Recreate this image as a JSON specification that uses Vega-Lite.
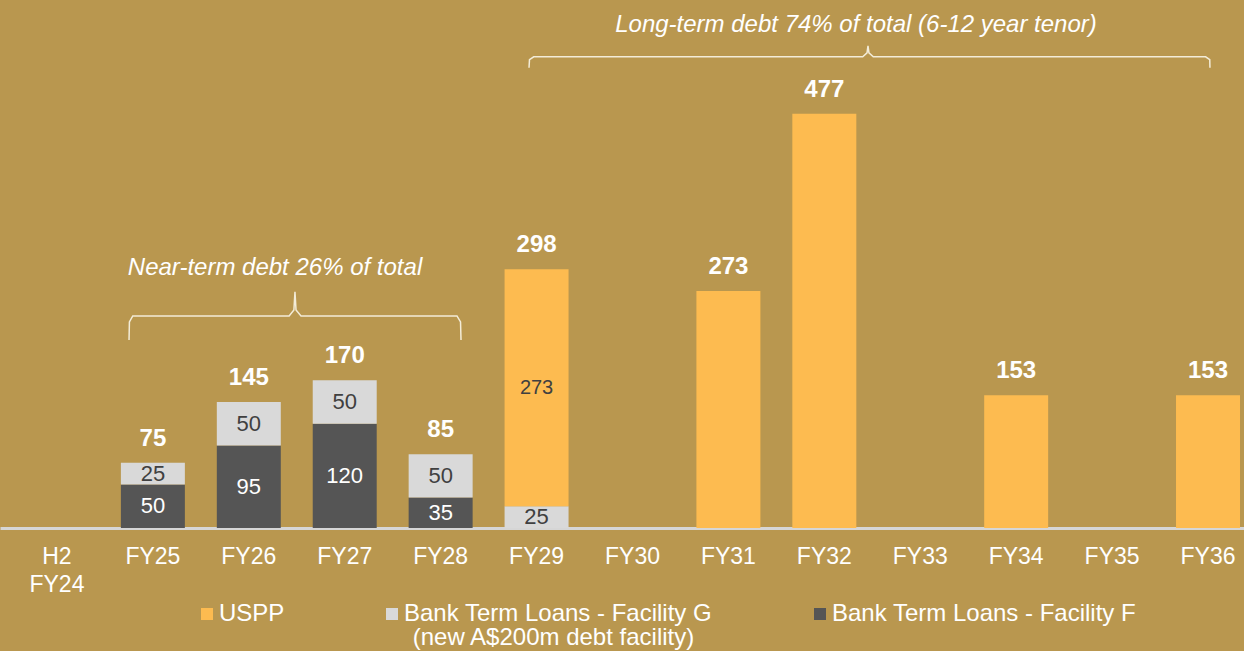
{
  "$schema": "https://vega.github.io/schema/vega-lite/v6.json",
  "width": 1244,
  "height": 528,
  "autosize": {"type": "none"},
  "padding": {"left": 0, "right": 0, "top": 0, "bottom": 123},
  "background": "#B9974F",
  "config": {"view": {"stroke": null}, "font": "Liberation Sans"},
  "datasets": {
    "debt": [
      {"year": "FY25", "series": "Bank Term Loans - Facility F", "value": 50},
      {"year": "FY25", "series": "Bank Term Loans - Facility G", "value": 25},
      {"year": "FY26", "series": "Bank Term Loans - Facility F", "value": 95},
      {"year": "FY26", "series": "Bank Term Loans - Facility G", "value": 50},
      {"year": "FY27", "series": "Bank Term Loans - Facility F", "value": 120},
      {"year": "FY27", "series": "Bank Term Loans - Facility G", "value": 50},
      {"year": "FY28", "series": "Bank Term Loans - Facility F", "value": 35},
      {"year": "FY28", "series": "Bank Term Loans - Facility G", "value": 50},
      {"year": "FY29", "series": "Bank Term Loans - Facility G", "value": 25},
      {"year": "FY29", "series": "USPP", "value": 273},
      {"year": "FY31", "series": "USPP", "value": 273},
      {"year": "FY32", "series": "USPP", "value": 477},
      {"year": "FY34", "series": "USPP", "value": 153},
      {"year": "FY36", "series": "USPP", "value": 153}
    ],
    "braces": [
      {"brace": "near", "i": 0, "x": 0.751, "y": 216.6},
      {"brace": "near", "i": 1, "x": 0.755, "y": 237.3},
      {"brace": "near", "i": 2, "x": 0.79, "y": 244.2},
      {"brace": "near", "i": 3, "x": 2.42, "y": 244.2},
      {"brace": "near", "i": 4, "x": 2.47, "y": 251},
      {"brace": "near", "i": 5, "x": 2.481, "y": 271.9},
      {"brace": "near", "i": 6, "x": 2.492, "y": 251},
      {"brace": "near", "i": 7, "x": 2.544, "y": 244.2},
      {"brace": "near", "i": 8, "x": 4.17, "y": 244.2},
      {"brace": "near", "i": 9, "x": 4.207, "y": 237.3},
      {"brace": "near", "i": 10, "x": 4.212, "y": 216.6},
      {"brace": "long", "i": 0, "x": 4.921, "y": 530},
      {"brace": "long", "i": 1, "x": 4.926, "y": 539.2},
      {"brace": "long", "i": 2, "x": 4.97, "y": 542.6},
      {"brace": "long", "i": 3, "x": 8.4, "y": 542.6},
      {"brace": "long", "i": 4, "x": 8.445, "y": 547.2},
      {"brace": "long", "i": 5, "x": 8.455, "y": 555.3},
      {"brace": "long", "i": 6, "x": 8.465, "y": 547.2},
      {"brace": "long", "i": 7, "x": 8.51, "y": 542.6},
      {"brace": "long", "i": 8, "x": 11.975, "y": 542.6},
      {"brace": "long", "i": 9, "x": 12.018, "y": 539.2},
      {"brace": "long", "i": 10, "x": 12.02, "y": 530}
    ],
    "notes": [
      {"x": 2.273, "y": 299.5, "text": "Near-term debt 26% of total"},
      {"x": 8.33, "y": 579.5, "text": "Long-term debt 74% of total (6-12 year tenor)"}
    ],
    "legendNote": [
      {"x": 5.176, "y": -126.7, "text": "(new A$200m debt facility)"}
    ]
  },
  "layer": [
    {
      "data": {"name": "debt"},
      "mark": {"type": "bar"},
      "encoding": {
        "x": {
          "field": "year",
          "type": "nominal",
          "sort": null,
          "scale": {
            "type": "band",
            "domain": ["H2 FY24", "FY25", "FY26", "FY27", "FY28", "FY29", "FY30", "FY31", "FY32", "FY33", "FY34", "FY35", "FY36"],
            "paddingInner": 0.333,
            "paddingOuter": 0.151,
            "align": 0.862
          },
          "axis": {
            "title": null,
            "domainColor": "#D6D6D6",
            "domainWidth": 3,
            "ticks": false,
            "grid": false,
            "labelAngle": 0,
            "labelColor": "#FFFFFF",
            "labelFont": "Liberation Sans",
            "labelFontSize": 23,
            "labelPadding": 17,
            "labelLineHeight": 28,
            "labelExpr": "datum.value == 'H2 FY24' ? ['H2', 'FY24'] : datum.label"
          }
        },
        "y": {
          "field": "value",
          "type": "quantitative",
          "stack": "zero",
          "scale": {"domain": [0, 608], "nice": false, "zero": true},
          "axis": null
        },
        "color": {
          "field": "series",
          "type": "nominal",
          "scale": {
            "domain": ["USPP", "Bank Term Loans - Facility G", "Bank Term Loans - Facility F"],
            "range": ["#FDBB50", "#D9D9D9", "#555555"]
          },
          "legend": {
            "title": null,
            "orient": "none",
            "legendX": 195,
            "legendY": 602,
            "direction": "horizontal",
            "columns": 3,
            "columnPadding": 95,
            "padding": 0,
            "symbolType": "square",
            "symbolSize": 144,
            "symbolStrokeWidth": 0,
            "labelColor": "#FFFFFF",
            "labelFont": "Liberation Sans",
            "labelFontSize": 24,
            "labelOffset": 0,
            "labelLimit": 0
          }
        },
        "order": {"field": "series", "type": "nominal", "sort": "ascending"}
      }
    },
    {
      "data": {"name": "debt"},
      "transform": [
        {"stack": "value", "groupby": ["year"], "sort": [{"field": "series", "order": "ascending"}], "as": ["v0", "v1"]},
        {"filter": "datum.series != 'USPP' || datum.year == 'FY29'"},
        {"fold": ["v0", "v1"], "as": ["edge", "pos"]},
        {"aggregate": [{"op": "mean", "field": "pos", "as": "mid"}, {"op": "max", "field": "value", "as": "value"}], "groupby": ["year", "series"]}
      ],
      "mark": {"type": "text", "font": "Liberation Sans", "baseline": "middle", "align": "center"},
      "encoding": {
        "x": {
          "field": "year",
          "type": "nominal",
          "sort": null,
          "scale": {
            "type": "band",
            "domain": ["H2 FY24", "FY25", "FY26", "FY27", "FY28", "FY29", "FY30", "FY31", "FY32", "FY33", "FY34", "FY35", "FY36"],
            "paddingInner": 0.333,
            "paddingOuter": 0.151,
            "align": 0.862
          },
          "axis": null
        },
        "y": {"field": "mid", "type": "quantitative"},
        "text": {"field": "value", "type": "quantitative"},
        "size": {"condition": {"test": "datum.series == 'USPP'", "value": 20}, "value": 22},
        "color": {"condition": {"test": "datum.series == 'Bank Term Loans - Facility F'", "value": "#FFFFFF"}, "value": "#404040"}
      }
    },
    {
      "data": {"name": "debt"},
      "transform": [{"aggregate": [{"op": "sum", "field": "value", "as": "total"}], "groupby": ["year"]}],
      "mark": {"type": "text", "font": "Liberation Sans", "fontWeight": "bold", "fontSize": 24, "color": "#FFFFFF", "baseline": "alphabetic", "dy": -17},
      "encoding": {
        "x": {
          "field": "year",
          "type": "nominal",
          "sort": null,
          "scale": {
            "type": "band",
            "domain": ["H2 FY24", "FY25", "FY26", "FY27", "FY28", "FY29", "FY30", "FY31", "FY32", "FY33", "FY34", "FY35", "FY36"],
            "paddingInner": 0.333,
            "paddingOuter": 0.151,
            "align": 0.862
          },
          "axis": null
        },
        "y": {"field": "total", "type": "quantitative"},
        "text": {"field": "total", "type": "quantitative"}
      }
    },
    {
      "data": {"name": "braces"},
      "mark": {"type": "line", "color": "#F3ECD8", "strokeWidth": 1.5},
      "encoding": {
        "x": {"field": "x", "type": "quantitative", "scale": {"domain": [-0.5942, 12.375], "nice": false, "zero": false}, "axis": null},
        "y": {"field": "y", "type": "quantitative"},
        "detail": {"field": "brace", "type": "nominal"},
        "order": {"field": "i", "type": "quantitative"}
      }
    },
    {
      "data": {"name": "notes"},
      "mark": {"type": "text", "font": "Liberation Sans", "fontStyle": "italic", "fontSize": 24, "color": "#FFFFFF", "baseline": "middle", "align": "center"},
      "encoding": {
        "x": {"field": "x", "type": "quantitative", "scale": {"domain": [-0.5942, 12.375], "nice": false, "zero": false}, "axis": null},
        "y": {"field": "y", "type": "quantitative"},
        "text": {"field": "text", "type": "nominal"}
      }
    },
    {
      "data": {"name": "legendNote"},
      "mark": {"type": "text", "font": "Liberation Sans", "fontSize": 24, "color": "#FFFFFF", "baseline": "middle", "align": "center"},
      "encoding": {
        "x": {"field": "x", "type": "quantitative", "scale": {"domain": [-0.5942, 12.375], "nice": false, "zero": false}, "axis": null},
        "y": {"field": "y", "type": "quantitative"},
        "text": {"field": "text", "type": "nominal"}
      }
    }
  ],
  "resolve": {"scale": {"x": "independent"}}
}
